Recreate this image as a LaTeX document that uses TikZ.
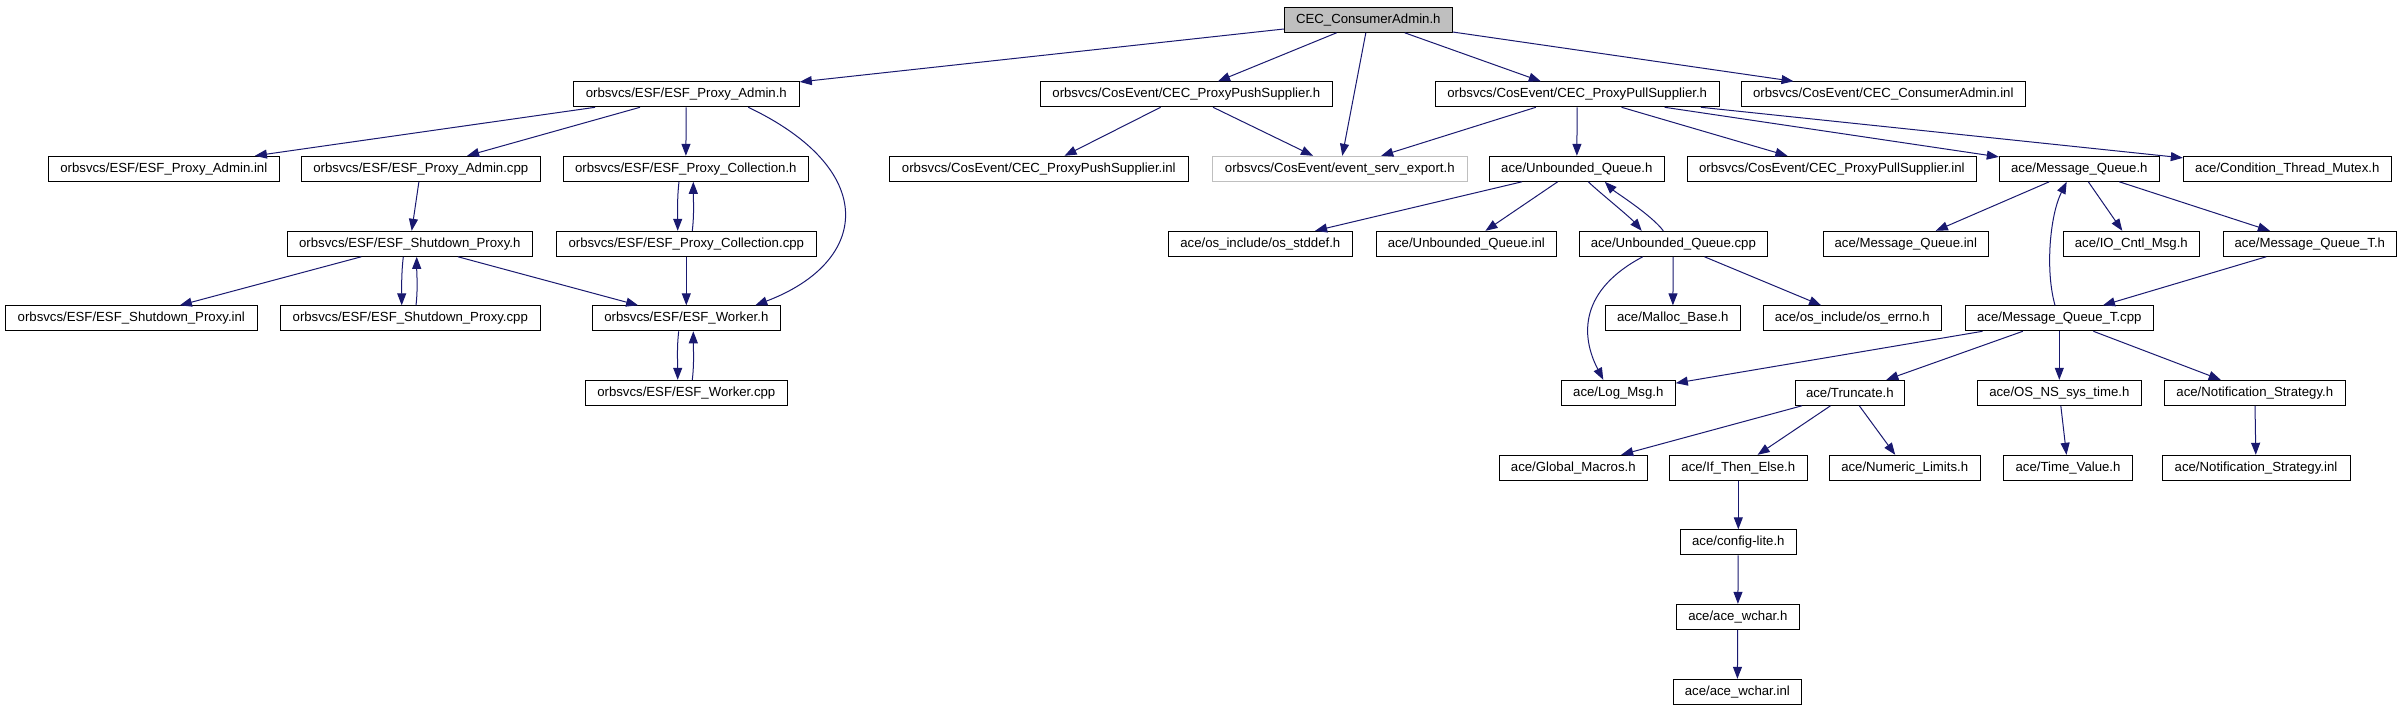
\documentclass[tikz,border=0pt]{standalone}
\usepackage{fontspec}
\setmainfont{Liberation Sans}
\usetikzlibrary{arrows.meta,calc}
\definecolor{edgecol}{HTML}{191970}
\definecolor{grayfill}{HTML}{BFBFBF}
\definecolor{grayline}{HTML}{BFBFBF}
\begin{document}
\begin{tikzpicture}[x=1pt,y=-1pt,
  box/.style={draw=black,line width=1pt,rectangle,inner sep=0pt,minimum height=25pt,
    font=\fontsize{13.2pt}{15pt}\selectfont,text=black},
  rootbox/.style={box,fill=grayfill},
  greybox/.style={box,draw=grayline},
  e/.style={draw=edgecol,line width=1pt,-{Triangle[length=12pt,width=9pt]}}]
\fill[white] (0,0) rectangle (2401,709);
\useasboundingbox (0,0) rectangle (2401,709);
% row 0
\node[rootbox,minimum width=168] (root) at (1368.3,19.8) {CEC\_ConsumerAdmin.h};
% row 1
\node[box,minimum width=226] (padm) at (686.3,94.3) {orbsvcs/ESF/ESF\_Proxy\_Admin.h};
\node[box,minimum width=292] (ppush) at (1186.3,94.3) {orbsvcs/CosEvent/CEC\_ProxyPushSupplier.h};
\node[box,minimum width=284] (ppull) at (1577.2,94.3) {orbsvcs/CosEvent/CEC\_ProxyPullSupplier.h};
\node[box,minimum width=284] (cainl) at (1883.3,94.3) {orbsvcs/CosEvent/CEC\_ConsumerAdmin.inl};
% row 2
\node[box,minimum width=231] (padminl) at (163.8,168.8) {orbsvcs/ESF/ESF\_Proxy\_Admin.inl};
\node[box,minimum width=239] (padmcpp) at (420.8,168.8) {orbsvcs/ESF/ESF\_Proxy\_Admin.cpp};
\node[box,minimum width=245] (pcolh) at (685.8,168.8) {orbsvcs/ESF/ESF\_Proxy\_Collection.h};
\node[box,minimum width=299] (ppushinl) at (1038.8,168.8) {orbsvcs/CosEvent/CEC\_ProxyPushSupplier.inl};
\node[greybox,minimum width=255] (export) at (1339.8,168.8) {orbsvcs/CosEvent/event\_serv\_export.h};
\node[box,minimum width=175] (uqh) at (1576.8,168.8) {ace/Unbounded\_Queue.h};
\node[box,minimum width=289] (ppullinl) at (1831.8,168.8) {orbsvcs/CosEvent/CEC\_ProxyPullSupplier.inl};
\node[box,minimum width=160] (mqh) at (2079.3,168.8) {ace/Message\_Queue.h};
\node[box,minimum width=208] (ctm) at (2287.3,168.8) {ace/Condition\_Thread\_Mutex.h};
% row 3
\node[box,minimum width=245] (sdh) at (409.8,243.8) {orbsvcs/ESF/ESF\_Shutdown\_Proxy.h};
\node[box,minimum width=260] (pcolcpp) at (686.3,243.8) {orbsvcs/ESF/ESF\_Proxy\_Collection.cpp};
\node[box,minimum width=184] (stddef) at (1260.3,243.8) {ace/os\_include/os\_stddef.h};
\node[box,minimum width=180] (uqinl) at (1466.3,243.8) {ace/Unbounded\_Queue.inl};
\node[box,minimum width=188] (uqcpp) at (1673.3,243.8) {ace/Unbounded\_Queue.cpp};
\node[box,minimum width=165] (mqinl) at (1905.8,243.8) {ace/Message\_Queue.inl};
\node[box,minimum width=136] (ioc) at (2131.3,243.8) {ace/IO\_Cntl\_Msg.h};
\node[box,minimum width=173] (mqth) at (2309.8,243.8) {ace/Message\_Queue\_T.h};
% row 4
\node[box,minimum width=252] (sdinl) at (131.3,318.3) {orbsvcs/ESF/ESF\_Shutdown\_Proxy.inl};
\node[box,minimum width=260] (sdcpp) at (410.3,318.3) {orbsvcs/ESF/ESF\_Shutdown\_Proxy.cpp};
\node[box,minimum width=188] (wh) at (686.3,318.3) {orbsvcs/ESF/ESF\_Worker.h};
\node[box,minimum width=135] (malloc) at (1672.8,318.3) {ace/Malloc\_Base.h};
\node[box,minimum width=178] (errno) at (1852.3,318.3) {ace/os\_include/os\_errno.h};
\node[box,minimum width=188] (mqtcpp) at (2059.3,318.3) {ace/Message\_Queue\_T.cpp};
% row 5
\node[box,minimum width=202] (wcpp) at (686.3,392.8) {orbsvcs/ESF/ESF\_Worker.cpp};
\node[box,minimum width=114] (logmsg) at (1618.3,392.8) {ace/Log\_Msg.h};
\node[box,minimum width=109] (trunc) at (1849.8,392.8) {ace/Truncate.h};
\node[box,minimum width=164] (systime) at (2059.3,392.8) {ace/OS\_NS\_sys\_time.h};
\node[box,minimum width=181] (nsh) at (2254.8,392.8) {ace/Notification\_Strategy.h};
% row 6
\node[box,minimum width=148] (gm) at (1573.3,467.8) {ace/Global\_Macros.h};
\node[box,minimum width=138] (ite) at (1738.3,467.8) {ace/If\_Then\_Else.h};
\node[box,minimum width=151] (nl) at (1904.7,467.8) {ace/Numeric\_Limits.h};
\node[box,minimum width=129] (tv) at (2068,467.8) {ace/Time\_Value.h};
\node[box,minimum width=188] (nsinl) at (2256,467.8) {ace/Notification\_Strategy.inl};
% rows 7-9
\node[box,minimum width=116] (cfg) at (1738.3,542.3) {ace/config-lite.h};
\node[box,minimum width=123] (wch) at (1737.8,616.8) {ace/ace\_wchar.h};
\node[box,minimum width=128] (wchinl) at (1737.3,691.8) {ace/ace\_wchar.inl};
% edges from root
\draw[e] (root) -- (padm);
\draw[e] (root) -- (ppush);
\draw[e] (root) -- (export);
\draw[e] (root) -- (ppull);
\draw[e] (root) -- (cainl);
% ESF part
\draw[e] (padm) -- (padminl);
\draw[e] (padm) -- (padmcpp);
\draw[e] (padm) -- (pcolh);
\draw[e] ($(padm.south)+(62,0)$) .. controls (880,170) and (870,262) .. ($(wh.north)+(69,0)$);
\draw[e] (padmcpp) -- (sdh);
\draw[e] ($(pcolh.south)+(-6.8,0)$) .. controls +(-2,17) and +(0,-17) .. ($(pcolcpp.north)+(-8.6,0)$);
\draw[e] ($(pcolcpp.north)+(6,0)$) .. controls +(2,-17) and +(0,17) .. ($(pcolh.south)+(7.5,0)$);
\draw[e] (pcolcpp) -- (wh);
\draw[e] (sdh) -- (sdinl);
\draw[e] ($(sdh.south)+(-6.5,0)$) .. controls +(-2,17) and +(0,-17) .. ($(sdcpp.north)+(-8.6,0)$);
\draw[e] ($(sdcpp.north)+(5.7,0)$) .. controls +(2,-17) and +(0,17) .. ($(sdh.south)+(6.9,0)$);
\draw[e] (sdh) -- (wh);
\draw[e] ($(wh.south)+(-7.6,0)$) .. controls +(-2,17) and +(0,-17) .. ($(wcpp.north)+(-8.6,0)$);
\draw[e] ($(wcpp.north)+(6,0)$) .. controls +(2,-17) and +(0,17) .. ($(wh.south)+(7,0)$);
% CosEvent part
\draw[e] (ppush) -- (ppushinl);
\draw[e] (ppush) -- (export);
\draw[e] (ppull) -- (export);
\draw[e] (ppull) -- (uqh);
\draw[e] (ppull) -- (ppullinl);
\draw[e] (ppull) -- (mqh);
\draw[e] (ppull) -- (ctm);
% Unbounded queue
\draw[e] (uqh) -- (stddef);
\draw[e] (uqh) -- (uqinl);
\draw[e] ($(uqh.south)+(11.5,0)$) .. controls +(8,8) and +(-12,-14) .. ($(uqcpp.north)+(-31.6,0)$);
\draw[e] ($(uqcpp.north)+(-10,0)$) .. controls +(-12,-16) and +(10,10) .. ($(uqh.south)+(28,0)$);
\draw[e] ($(uqcpp.south)+(-30.6,0)$) .. controls (1580,290) and (1580,335) .. ($(logmsg.north)+(-15,0)$);
\draw[e] (uqcpp) -- (malloc);
\draw[e] (uqcpp) -- (errno);
% Message queue
\draw[e] (mqh) -- (mqinl);
\draw[e] (mqh) -- (ioc);
\draw[e] (mqh) -- (mqth);
\draw[e] (mqth) -- (mqtcpp);
\draw[e] ($(mqtcpp.north)+(-4.3,0)$) .. controls (2045,270) and (2050,215) .. ($(mqh.south)+(-12.6,0)$);
\draw[e] (mqtcpp) -- (logmsg);
\draw[e] (mqtcpp) -- (trunc);
\draw[e] (mqtcpp) -- (systime);
\draw[e] (mqtcpp) -- (nsh);
% lower part
\draw[e] (trunc) -- (gm);
\draw[e] (trunc) -- (ite);
\draw[e] (trunc) -- (nl);
\draw[e] (systime) -- (tv);
\draw[e] (nsh) -- (nsinl);
\draw[e] (ite) -- (cfg);
\draw[e] (cfg) -- (wch);
\draw[e] (wch) -- (wchinl);
\end{tikzpicture}
\end{document}
